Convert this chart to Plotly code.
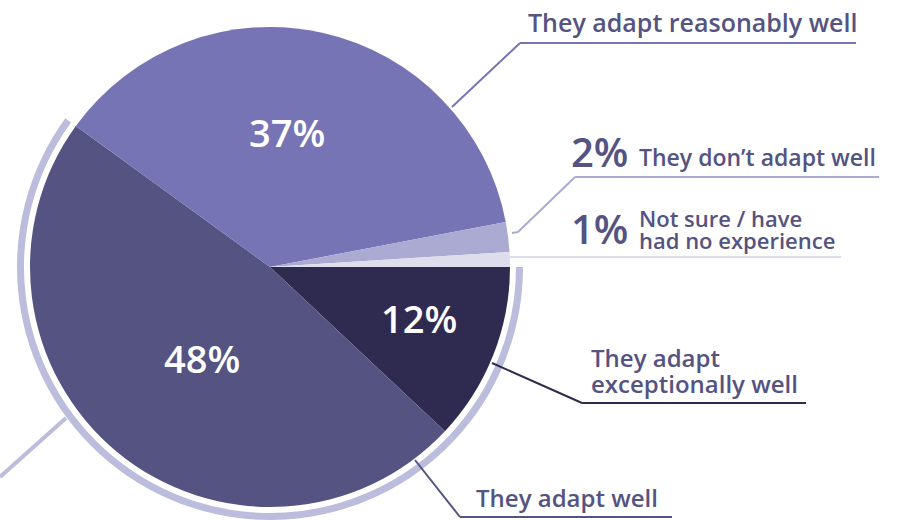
import plotly.graph_objects as go

W, H = 897, 520

labels = ["They adapt exceptionally well", "They adapt well", "They adapt reasonably well",
          "They don't adapt well", "Not sure / have had no experience"]
values = [12, 48, 37, 2, 1]
colors = ["#2F2A4F", "#545381", "#7674B5", "#ABAAD3", "#DEDDEC"]
ring_colors = ["#BCBCDC", "#BCBCDC", "rgba(0,0,0,0)", "rgba(0,0,0,0)", "rgba(0,0,0,0)"]

TXT = "#545381"
FONT = "Open Sans"
WEIGHT = 600


def px(x, y):
    return x / W, 1 - y / H


cx, cy, r = 270, 267, 240
r_out = 253

fig = go.Figure()
# outer ring behind the 12% + 48% slices
fig.add_trace(go.Pie(
    values=values, labels=labels, sort=False, direction="clockwise", rotation=90,
    hole=246 / r_out, marker=dict(colors=ring_colors, line=dict(width=0)),
    textinfo="none", hoverinfo="skip", showlegend=False,
    domain=dict(x=[(cx - r_out) / W, (cx + r_out) / W], y=[1 - (cy + r_out) / H, 1 - (cy - r_out) / H]),
))
fig.add_trace(go.Pie(
    values=values, labels=labels, sort=False, direction="clockwise", rotation=90,
    marker=dict(colors=colors, line=dict(width=0)),
    textinfo="none", showlegend=False,
    domain=dict(x=[(cx - r) / W, (cx + r) / W], y=[1 - (cy + r) / H, 1 - (cy - r) / H]),
))

shapes = []


def polyline(pts, color, width=2):
    for (x0, y0), (x1, y1) in zip(pts[:-1], pts[1:]):
        a = px(x0, y0)
        b = px(x1, y1)
        shapes.append(dict(type="line", xref="paper", yref="paper", x0=a[0], y0=a[1], x1=b[0], y1=b[1],
                           line=dict(color=color, width=width), layer="above"))


polyline([(452, 107), (520, 43), (856, 43)], colors[2])
polyline([(512, 233), (518, 232), (575, 177), (879, 177)], colors[3])
polyline([(510, 257), (841, 257)], colors[4])
polyline([(492, 363), (582, 403), (806, 403)], colors[0])
polyline([(415, 460), (460, 517), (672, 517)], colors[1])
polyline([(66, 418), (0, 477)], "#BCBCDC", 4)

ann = []


def text(x, y, t, size, color=TXT, xanchor="left"):
    px_ = px(x, y)
    ann.append(dict(x=px_[0], y=px_[1], xref="paper", yref="paper", text=t, showarrow=False,
                    xanchor=xanchor, yanchor="middle", align="left",
                    font=dict(family=FONT, size=size, color=color, weight=WEIGHT)))


text(526, 22, labels[2], 25)
text(569, 151, f"{values[3]}%", 40)
text(637, 157, "They don’t adapt well", 23)
text(569, 228, f"{values[4]}%", 40)
text(637, 218, "Not sure / have", 22)
text(637, 240, "had no experience", 22)
text(589, 357, "They adapt", 24)
text(589, 383, "exceptionally well", 24)
text(474, 497, labels[1], 24)

text(287, 132, f"{values[2]}%", 38, "white", "center")
text(202, 358, f"{values[1]}%", 38, "white", "center")
text(419, 318, f"{values[0]}%", 38, "white", "center")

fig.update_layout(width=W, height=H, margin=dict(l=0, r=0, t=0, b=0),
                  paper_bgcolor="white", plot_bgcolor="white",
                  shapes=shapes, annotations=ann)
fig.write_html("out.html", config={"displayModeBar": False},
               post_script="document.body.style.margin='0px';")
